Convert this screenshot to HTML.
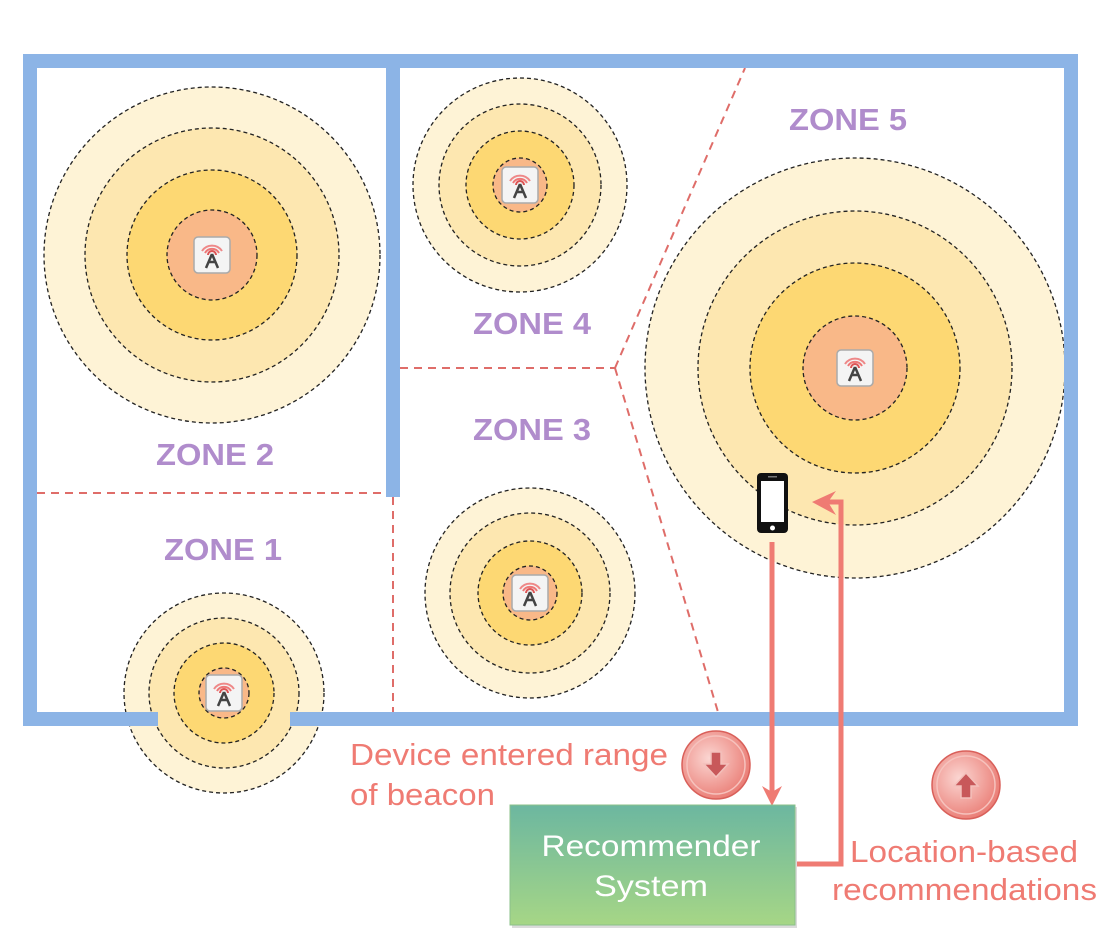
<!DOCTYPE html>
<html><head><meta charset="utf-8"><style>
html,body{margin:0;padding:0;background:#fff;}
svg{display:block;}
text{font-family:"Liberation Sans",sans-serif;}
</style></head><body>
<svg width="1110" height="947" viewBox="0 0 1110 947" xmlns="http://www.w3.org/2000/svg">
<defs>
<linearGradient id="g" x1="0" y1="0" x2="0" y2="1"><stop offset="0" stop-color="#6cb7a0"/><stop offset="1" stop-color="#a6d686"/></linearGradient>
<radialGradient id="rb" cx="0.4" cy="0.4" r="0.7"><stop offset="0" stop-color="#fbd6d2"/><stop offset="1" stop-color="#e8736b"/></radialGradient>
<g id="icon">
<rect x="-18" y="-18" width="36" height="36" rx="4" fill="#f4f4f4" stroke="#aaa" stroke-width="1.5"/>
<path d="M-10,-4 A12,12 0 0 1 10,-4" fill="none" stroke="#e88" stroke-width="2"/>
<path d="M-7,-2 A8,8 0 0 1 7,-2" fill="none" stroke="#e77" stroke-width="2"/>
<path d="M-4,0 A4,4 0 0 1 4,0" fill="none" stroke="#d55" stroke-width="2"/>
<path d="M0,-1 L-6,13 M0,-1 L6,13 M-3,7 L3,7" stroke="#444" stroke-width="2.5" fill="none"/>
</g>
</defs>

<g stroke="#222" stroke-width="1.3" stroke-dasharray="4,3">
<g transform="translate(212,255)">
<circle r="168" fill="#fef3d6"/><circle r="127" fill="#fde7b0"/><circle r="85" fill="#fdd873"/><circle r="45" fill="#f9b888"/>
</g>
<g transform="translate(520,185)">
<circle r="107" fill="#fef3d6"/><circle r="81" fill="#fde7b0"/><circle r="54" fill="#fdd873"/><circle r="27" fill="#f9b888"/>
</g>
<g transform="translate(855,368)">
<circle r="210" fill="#fef3d6"/><circle r="157" fill="#fde7b0"/><circle r="105" fill="#fdd873"/><circle r="52" fill="#f9b888"/>
</g>
<g transform="translate(530,593)">
<circle r="105" fill="#fef3d6"/><circle r="80" fill="#fde7b0"/><circle r="52" fill="#fdd873"/><circle r="27" fill="#f9b888"/>
</g>
<g transform="translate(224,693)">
<circle r="100" fill="#fef3d6"/><circle r="75" fill="#fde7b0"/><circle r="50" fill="#fdd873"/><circle r="25" fill="#f9b888"/>
</g>
</g>
<use href="#icon" transform="translate(212,255)"/>
<use href="#icon" transform="translate(520,185)"/>
<use href="#icon" transform="translate(855,368)"/>
<use href="#icon" transform="translate(530,593)"/>
<use href="#icon" transform="translate(224,693)"/>

<g stroke="#d9534f" stroke-width="2" stroke-dasharray="8,6" fill="none" opacity="0.85">
<path d="M37,493 L386,493"/>
<path d="M393,497 L393,712"/>
<path d="M400,368 L615,368"/>
<path d="M615,368 L745,68"/>
<path d="M615,368 L718,712"/>
</g>

<g fill="#8cb4e6">
<rect x="23" y="54" width="1055" height="14"/>
<rect x="23" y="54" width="14" height="672"/>
<rect x="1064" y="54" width="14" height="672"/>
<rect x="23" y="712" width="135" height="14"/>
<rect x="290" y="712" width="788" height="14"/>
<rect x="386" y="54" width="14" height="443"/>
</g>

<g fill="#b08ccc" font-weight="bold" font-size="31" text-anchor="middle">
<text x="848" y="130" textLength="118" lengthAdjust="spacingAndGlyphs">ZONE 5</text>
<text x="532" y="334" textLength="118" lengthAdjust="spacingAndGlyphs">ZONE 4</text>
<text x="532" y="440" textLength="118" lengthAdjust="spacingAndGlyphs">ZONE 3</text>
<text x="215" y="465" textLength="118" lengthAdjust="spacingAndGlyphs">ZONE 2</text>
<text x="223" y="560" textLength="118" lengthAdjust="spacingAndGlyphs">ZONE 1</text>
</g>

<rect x="757" y="473" width="31" height="60" rx="4" fill="#111"/>
<rect x="761" y="481" width="23" height="41" fill="#fff"/>
<circle cx="772.5" cy="528" r="2.5" fill="#fff"/>
<rect x="768" y="476" width="9" height="1.5" fill="#777"/>

<g stroke="#ef7b73" stroke-width="5" fill="none">
<path d="M772,542 L772,792"/>
<path d="M797,864 L841,864 L841,502 L825,502"/>
</g>
<path d="M762,786 L772,806 L782,786 L772,792 Z" fill="#ef7b73"/>
<path d="M812,502 L836,491 L828,502 L836,515 Z" fill="#ef7b73"/>

<rect x="512" y="807" width="285" height="121" fill="#999" opacity="0.35"/>
<rect x="510" y="805" width="285" height="120" fill="url(#g)" stroke="#8bc08a" stroke-width="1"/>
<g fill="#fff" font-size="30" text-anchor="middle">
<text x="651" y="856" textLength="219" lengthAdjust="spacingAndGlyphs">Recommender</text>
<text x="651" y="896" textLength="114" lengthAdjust="spacingAndGlyphs">System</text>
</g>

<g>
<circle cx="716" cy="765" r="34" fill="url(#rb)" stroke="#d9605a" stroke-width="1.5"/>
<circle cx="716" cy="765" r="29" fill="none" stroke="#f6c2bd" stroke-width="1.5"/>
<path d="M711,752 h10 v12 h7 l-12,13 l-12,-13 h7 z" fill="#c8585a" stroke="#f3c0bb" stroke-width="1.5"/>
<circle cx="966" cy="785" r="34" fill="url(#rb)" stroke="#d9605a" stroke-width="1.5"/>
<circle cx="966" cy="785" r="29" fill="none" stroke="#f6c2bd" stroke-width="1.5"/>
<path d="M961,798 h10 v-12 h7 l-12,-13 l-12,13 h7 z" fill="#c8585a" stroke="#f3c0bb" stroke-width="1.5"/>
</g>

<g fill="#ef7b73" font-size="31">
<text x="350" y="765" textLength="318" lengthAdjust="spacingAndGlyphs">Device entered range</text>
<text x="350" y="805" textLength="145" lengthAdjust="spacingAndGlyphs">of beacon</text>
<text x="850" y="862" textLength="228" lengthAdjust="spacingAndGlyphs">Location-based</text>
<text x="832" y="900" textLength="265" lengthAdjust="spacingAndGlyphs">recommendations</text>
</g>
</svg>
</body></html>
